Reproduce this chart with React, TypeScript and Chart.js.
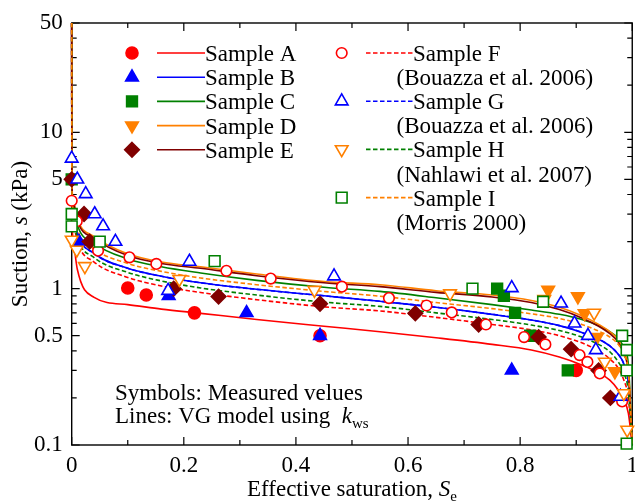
import React, { useEffect, useRef } from 'react';
import { Chart, registerables } from 'chart.js';

Chart.register(...registerables);

const FONT = '"Liberation Serif", "Times New Roman", Times, serif';

// Axis ticks
const xTicks = [0, 0.2, 0.4, 0.6, 0.8, 1];
const xMinorTicks = [0.1, 0.3, 0.5, 0.7, 0.9];
const yTicks = [0.1, 0.5, 1, 5, 10, 50];
const yMinorTicks = [0.2, 0.3, 0.4, 0.6, 0.7, 0.8, 0.9, 2, 3, 4, 6, 7, 8, 9, 20, 30, 40];

// Measured values (Se, s in kPa)
const seA = [0.1, 0.133, 0.219, 0.443, 0.9];
const sA = [1.01, 0.91, 0.7, 0.5, 0.3];
const seB = [0.013, 0.173, 0.312, 0.443, 0.785];
const sB = [2.0, 0.9, 0.7, 0.5, 0.3];
const seC = [0, 0.759, 0.771, 0.791, 0.818, 0.885];
const sC = [5.0, 1.0, 0.9, 0.7, 0.5, 0.3];
const seD = [0.85, 0.903, 0.915, 0.937, 0.969];
const sD = [0.98, 0.89, 0.695, 0.49, 0.295];
const seE = [0, 0.022, 0.032, 0.182, 0.262, 0.443, 0.613, 0.726, 0.833, 0.891, 0.94, 0.961];
const sE = [5.0, 3.0, 2.0, 1.0, 0.89, 0.8, 0.695, 0.59, 0.49, 0.41, 0.3, 0.2];
const seF = [0, 0.009, 0.047, 0.103, 0.151, 0.276, 0.355, 0.482, 0.566, 0.633, 0.678, 0.739, 0.807, 0.845, 0.906, 0.92, 0.942, 0.982];
const sF = [3.65, 2.7, 1.75, 1.585, 1.44, 1.3, 1.16, 1.03, 0.87, 0.78, 0.705, 0.59, 0.49, 0.44, 0.376, 0.34, 0.287, 0.19];
const seG = [0, 0.01, 0.025, 0.041, 0.056, 0.078, 0.172, 0.21, 0.468, 0.785, 0.873, 0.897, 0.921, 0.935, 0.979];
const sG = [6.8, 5.0, 4.03, 3.0, 2.51, 2.0, 0.97, 1.49, 1.2, 1.01, 0.805, 0.6, 0.5, 0.405, 0.204];
const seH = [0, 0.009, 0.0235, 0.192, 0.433, 0.675, 0.843, 0.932, 0.951, 0.985, 0.991];
const sH = [2.05, 1.77, 1.39, 1.15, 0.98, 0.93, 0.855, 0.7, 0.34, 0.214, 0.125];
const seI = [0, 0, 0.05, 0.255, 0.715, 0.841, 0.982, 0.99, 0.99, 0.99];
const sI = [3.0, 2.5, 2.0, 1.5, 1.0, 0.825, 0.5, 0.405, 0.3, 0.102];

// VG model lines
const curveSe = [0, 0.0003, 0.002, 0.01, 0.04, 0.1, 0.16, 0.23, 0.33, 0.45, 0.55, 0.65, 0.75, 0.82, 0.87, 0.91, 0.94, 0.96, 0.975, 0.985, 0.993, 1.0];
const lineA = [50, 3.8, 2.15, 1.33, 0.88, 0.79, 0.74, 0.695, 0.635, 0.575, 0.53, 0.485, 0.44, 0.405, 0.365, 0.325, 0.29, 0.26, 0.225, 0.195, 0.16, 0.1];
const lineB = [50, 4.6, 3.1, 2.25, 1.68, 1.35, 1.2, 1.09, 0.99, 0.9, 0.83, 0.76, 0.685, 0.63, 0.58, 0.525, 0.475, 0.43, 0.38, 0.33, 0.25, 0.1];
const lineC = [50, 5.0, 3.5, 2.55, 1.95, 1.55, 1.38, 1.26, 1.13, 1.02, 0.96, 0.875, 0.79, 0.73, 0.685, 0.635, 0.58, 0.53, 0.48, 0.42, 0.33, 0.1];
const lineD = [50, 5.4, 3.8, 2.8, 2.15, 1.67, 1.48, 1.38, 1.24, 1.11, 1.06, 0.97, 0.91, 0.84, 0.76, 0.67, 0.59, 0.53, 0.47, 0.39, 0.3, 0.1];
const lineE = [50, 5.2, 3.7, 2.72, 2.1, 1.63, 1.45, 1.35, 1.21, 1.09, 1.03, 0.947, 0.885, 0.815, 0.735, 0.65, 0.575, 0.515, 0.455, 0.38, 0.29, 0.1];
const lineF = [50, 4.2, 2.8, 2.0, 1.48, 1.18, 1.04, 0.945, 0.85, 0.765, 0.72, 0.655, 0.59, 0.545, 0.5, 0.45, 0.4, 0.355, 0.31, 0.26, 0.2, 0.1];
const lineG = [50, 4.6, 3.1, 2.25, 1.68, 1.35, 1.2, 1.09, 0.99, 0.9, 0.83, 0.76, 0.685, 0.63, 0.58, 0.525, 0.475, 0.43, 0.38, 0.33, 0.25, 0.1];
const lineH = [50, 4.4, 2.95, 2.12, 1.58, 1.27, 1.12, 1.01, 0.91, 0.82, 0.77, 0.7, 0.635, 0.585, 0.54, 0.49, 0.44, 0.395, 0.34, 0.29, 0.22, 0.1];
const lineI = [50, 4.8, 3.3, 2.4, 1.8, 1.45, 1.29, 1.17, 1.06, 0.96, 0.895, 0.815, 0.745, 0.69, 0.645, 0.59, 0.535, 0.49, 0.44, 0.38, 0.29, 0.1];

const RED = '#ff0000';
const BLUE = '#0000ff';
const GREEN = '#008000';
const ORANGE = '#ff8000';
const BROWN = '#800000';

type Marker = 'circle' | 'triangle' | 'down' | 'rect' | 'diamond';
interface Series {
  label: string;
  sub?: string;
  se: number[];
  s: number[];
  line: number[];
  markerColor: string;
  lineColor: string;
  marker: Marker;
  filled: boolean;
  dashed: boolean;
}

const series: Series[] = [
  { label: 'Sample A', se: seA, s: sA, line: lineA, markerColor: RED, lineColor: RED, marker: 'circle', filled: true, dashed: false },
  { label: 'Sample B', se: seB, s: sB, line: lineB, markerColor: BLUE, lineColor: BLUE, marker: 'triangle', filled: true, dashed: false },
  { label: 'Sample C', se: seC, s: sC, line: lineC, markerColor: GREEN, lineColor: GREEN, marker: 'rect', filled: true, dashed: false },
  { label: 'Sample D', se: seD, s: sD, line: lineD, markerColor: ORANGE, lineColor: ORANGE, marker: 'down', filled: true, dashed: false },
  { label: 'Sample E', se: seE, s: sE, line: lineE, markerColor: BROWN, lineColor: BROWN, marker: 'diamond', filled: true, dashed: false },
  { label: 'Sample F', sub: '(Bouazza et al. 2006)', se: seF, s: sF, line: lineF, markerColor: RED, lineColor: RED, marker: 'circle', filled: false, dashed: true },
  { label: 'Sample G', sub: '(Bouazza et al. 2006)', se: seG, s: sG, line: lineG, markerColor: BLUE, lineColor: BLUE, marker: 'triangle', filled: false, dashed: true },
  { label: 'Sample H', sub: '(Nahlawi et al. 2007)', se: seH, s: sH, line: lineH, markerColor: ORANGE, lineColor: GREEN, marker: 'down', filled: false, dashed: true },
  { label: 'Sample I', sub: '(Morris 2000)', se: seI, s: sI, line: lineI, markerColor: GREEN, lineColor: ORANGE, marker: 'rect', filled: false, dashed: true },
];

function markerRadius(m: Marker, filled: boolean): number {
  if (m === 'circle') return filled ? 6 : 5.3;
  if (m === 'rect') return 7.6;
  return 7.3;
}

function chartStyle(m: Marker): { style: string; rotation: number } {
  if (m === 'down') return { style: 'triangle', rotation: 180 };
  if (m === 'diamond') return { style: 'rectRot', rotation: 0 };
  return { style: m, rotation: 0 };
}

function drawMarker(ctx: CanvasRenderingContext2D, m: Marker, x: number, y: number, r: number, color: string, filled: boolean) {
  ctx.beginPath();
  if (m === 'circle') {
    ctx.arc(x, y, r, 0, Math.PI * 2);
  } else if (m === 'rect') {
    const h = r * Math.SQRT1_2;
    ctx.rect(x - h, y - h, 2 * h, 2 * h);
  } else if (m === 'diamond') {
    ctx.moveTo(x, y - r);
    ctx.lineTo(x + r, y);
    ctx.lineTo(x, y + r);
    ctx.lineTo(x - r, y);
    ctx.closePath();
  } else {
    const rot = m === 'down' ? Math.PI : 0;
    for (let k = 0; k < 3; k++) {
      const a = rot + (k * 2 * Math.PI) / 3;
      const px = x + Math.sin(a) * r;
      const py = y - Math.cos(a) * r;
      if (k === 0) ctx.moveTo(px, py);
      else ctx.lineTo(px, py);
    }
    ctx.closePath();
  }
  ctx.fillStyle = filled ? color : '#ffffff';
  ctx.fill();
  ctx.strokeStyle = color;
  ctx.lineWidth = 1.6;
  ctx.stroke();
}

interface Part { t: string; italic?: boolean; size: number; dy?: number }

function partsWidth(ctx: CanvasRenderingContext2D, parts: Part[]) {
  let w = 0;
  for (const p of parts) {
    ctx.font = `${p.italic ? 'italic ' : ''}${p.size}px ${FONT}`;
    w += ctx.measureText(p.t).width;
  }
  return w;
}

function drawParts(ctx: CanvasRenderingContext2D, parts: Part[], x: number, y: number) {
  let cx = x;
  for (const p of parts) {
    ctx.font = `${p.italic ? 'italic ' : ''}${p.size}px ${FONT}`;
    ctx.fillText(p.t, cx, y + (p.dy || 0));
    cx += ctx.measureText(p.t).width;
  }
}

const decorPlugin = {
  id: 'decor',
  beforeDatasetsDraw(chart: any) {
    const { ctx, chartArea } = chart;
    const { left, right, top, bottom } = chartArea;
    ctx.save();
    ctx.strokeStyle = '#000';
    ctx.lineWidth = 1.4;
    ctx.strokeRect(left, top, right - left, bottom - top);
    const x = chart.scales.x;
    const y = chart.scales.y;
    ctx.lineWidth = 1.2;
    ctx.beginPath();
    const xt = (v: number, len: number) => {
      const px = x.getPixelForValue(v);
      ctx.moveTo(px, bottom);
      ctx.lineTo(px, bottom - len);
      ctx.moveTo(px, top);
      ctx.lineTo(px, top + len);
    };
    const yt = (v: number, len: number) => {
      const py = y.getPixelForValue(v);
      ctx.moveTo(left, py);
      ctx.lineTo(left + len, py);
      ctx.moveTo(right, py);
      ctx.lineTo(right - len, py);
    };
    xTicks.forEach((v) => xt(v, 8));
    xMinorTicks.forEach((v) => xt(v, 5));
    yTicks.forEach((v) => yt(v, 8));
    yMinorTicks.forEach((v) => yt(v, 5));
    ctx.stroke();
    ctx.restore();
  },
  afterDraw(chart: any) {
    const { ctx, chartArea } = chart;
    const { left, right, top, bottom } = chartArea;
    ctx.save();
    ctx.fillStyle = '#000';
    ctx.textBaseline = 'alphabetic';

    // Axis titles
    const xParts: Part[] = [
      { t: 'Effective saturation, ', size: 23 },
      { t: 'S', italic: true, size: 23 },
      { t: 'e', size: 15, dy: 5 },
    ];
    const xw = partsWidth(ctx, xParts);
    drawParts(ctx, xParts, (left + right) / 2 - xw / 2, 496);

    const yParts: Part[] = [
      { t: 'Suction, ', size: 23 },
      { t: 's', italic: true, size: 23 },
      { t: ' (kPa)', size: 23 },
    ];
    const yw = partsWidth(ctx, yParts);
    ctx.save();
    ctx.translate(27, (top + bottom) / 2);
    ctx.rotate(-Math.PI / 2);
    drawParts(ctx, yParts, -yw / 2, 0);
    ctx.restore();

    // Notes
    drawParts(ctx, [{ t: 'Symbols: Measured velues', size: 23 }], 115, 400);
    drawParts(ctx, [
      { t: 'Lines: VG model using  ', size: 23 },
      { t: 'k', italic: true, size: 23 },
      { t: 'ws', size: 15, dy: 5 },
    ], 115, 423);

    // Legend
    const rowH = 24.2;
    series.forEach((sr, i) => {
      const col = i < 5 ? 0 : 1;
      let rowY: number;
      let mx: number, l0: number, l1: number, tx: number, subX: number;
      if (col === 0) {
        rowY = 53 + i * rowH;
        mx = 132; l0 = 157; l1 = 205; tx = 205; subX = 0;
      } else {
        rowY = 53 + (i - 5) * 2 * 24.1;
        mx = 341.7; l0 = 366; l1 = 413; tx = 413; subX = 396.5;
      }
      ctx.save();
      ctx.strokeStyle = sr.lineColor;
      ctx.lineWidth = 1.6;
      ctx.setLineDash(sr.dashed ? [4.5, 2.5] : []);
      ctx.beginPath();
      ctx.moveTo(l0, rowY);
      ctx.lineTo(l1, rowY);
      ctx.stroke();
      ctx.restore();
      drawMarker(ctx, sr.marker, mx, rowY, markerRadius(sr.marker, sr.filled), sr.markerColor, sr.filled);
      ctx.fillStyle = '#000';
      drawParts(ctx, [{ t: sr.label, size: 23 }], tx, rowY + 8);
      if (sr.sub) drawParts(ctx, [{ t: sr.sub, size: 23 }], subX, rowY + 8 + 24.1);
    });
    ctx.restore();
  },
};

export default function App() {
  const ref = useRef<HTMLCanvasElement | null>(null);
  useEffect(() => {
    if (!ref.current) return;
    const datasets: any[] = [];
    const n = series.length;
    series.forEach((sr, i) => {
      const cs = chartStyle(sr.marker);
      datasets.push({
        label: sr.label + ' data',
        data: sr.se.map((v, k) => ({ x: v, y: sr.s[k] })),
        showLine: false,
        pointStyle: cs.style,
        pointRotation: cs.rotation,
        pointRadius: markerRadius(sr.marker, sr.filled),
        pointHoverRadius: markerRadius(sr.marker, sr.filled),
        pointBorderWidth: 1.6,
        pointBackgroundColor: sr.filled ? sr.markerColor : '#ffffff',
        pointBorderColor: sr.markerColor,
        backgroundColor: sr.filled ? sr.markerColor : '#ffffff',
        borderColor: sr.markerColor,
        clip: false,
        order: n - i,
      });
      datasets.push({
        label: sr.label + ' model',
        data: curveSe.map((v, k) => ({ x: v, y: sr.line[k] })),
        showLine: true,
        pointRadius: 0,
        pointHoverRadius: 0,
        borderColor: sr.lineColor,
        backgroundColor: sr.lineColor,
        borderWidth: 1.6,
        borderDash: sr.dashed ? [4.5, 2.5] : [],
        cubicInterpolationMode: 'monotone',
        fill: false,
        clip: false,
        order: 100 + (sr.label === 'Sample G' ? 50 : n - i),
      });
    });
    const chart = new Chart(ref.current, {
      type: 'scatter',
      data: { datasets },
      options: {
        animation: false,
        responsive: false,
        devicePixelRatio: 1,
        layout: { padding: { left: 0, right: 6.7, top: 23, bottom: 0 } },
        plugins: { legend: { display: false }, tooltip: { enabled: false } },
        events: [],
        scales: {
          x: {
            type: 'linear',
            min: 0,
            max: 1,
            grid: { display: false, drawTicks: false },
            border: { display: false },
            afterBuildTicks: (s: any) => { s.ticks = xTicks.map((v) => ({ value: v })); },
            afterFit: (s: any) => { s.height = 56; },
            ticks: {
              font: { family: FONT, size: 23 },
              color: '#000',
              padding: 7,
              maxRotation: 0,
              autoSkip: false,
              callback: (v: any) => String(v),
            },
          },
          y: {
            type: 'logarithmic',
            min: 0.1,
            max: 50,
            grid: { display: false, drawTicks: false },
            border: { display: false },
            afterBuildTicks: (s: any) => { s.ticks = yTicks.map((v) => ({ value: v })); },
            afterFit: (s: any) => { s.width = 71.7; },
            ticks: {
              font: { family: FONT, size: 23 },
              color: '#000',
              padding: 9,
              autoSkip: false,
              callback: (v: any) => String(v),
            },
          },
        },
      },
      plugins: [decorPlugin],
    } as any);
    return () => chart.destroy();
  }, []);

  return (
    <div style={{ position: 'fixed', left: 0, top: 0, width: 635, height: 501, overflow: 'hidden', background: '#ffffff' }}>
      <canvas ref={ref} width={645} height={501} style={{ display: 'block', width: 645, height: 501 }} />
    </div>
  );
}
